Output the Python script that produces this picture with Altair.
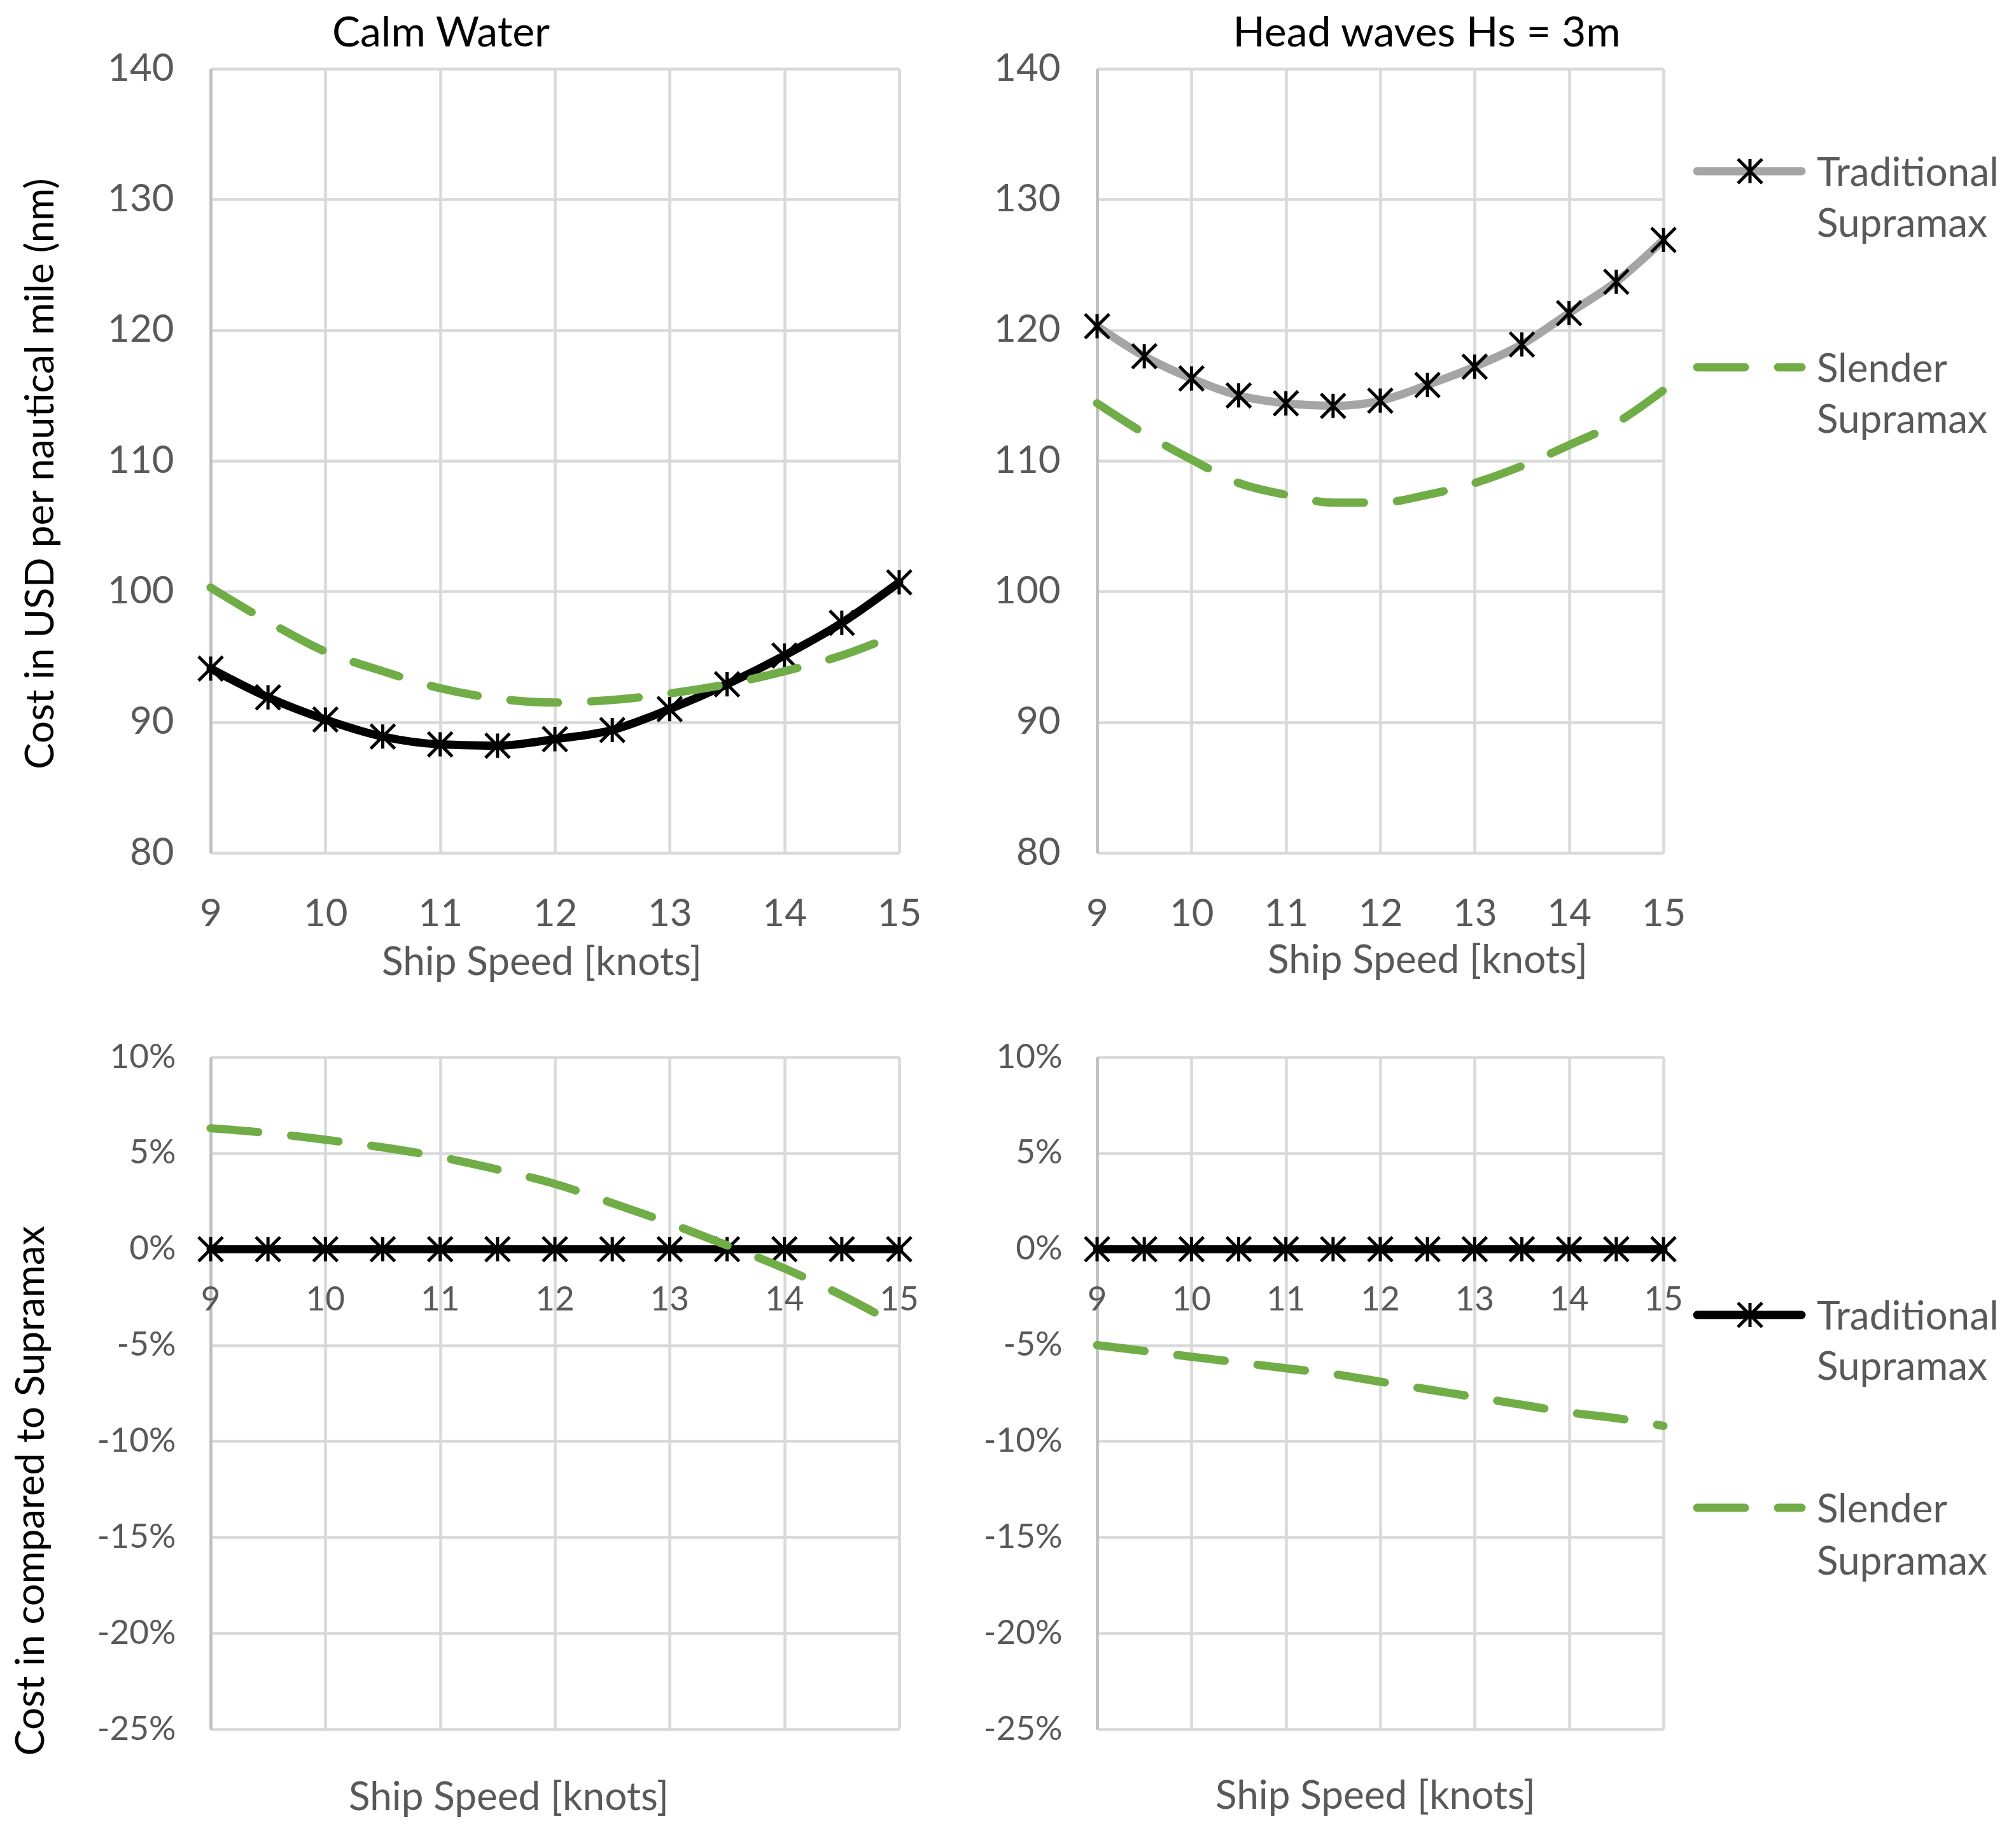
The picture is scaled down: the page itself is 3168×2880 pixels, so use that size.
import altair as alt
import pandas as pd

# ---------------- data ----------------
speeds = [9, 9.5, 10, 10.5, 11, 11.5, 12, 12.5, 13, 13.5, 14, 14.5, 15]

calm_traditional = [94.1, 91.9, 90.2, 88.9, 88.3, 88.2, 88.7, 89.4, 91.0, 92.9, 95.1, 97.6, 100.7]
calm_slender = [100.3, 97.7, 95.4, 93.9, 92.6, 91.8, 91.5, 91.7, 92.2, 92.9, 93.9, 95.1, 96.8]

head_traditional = [120.3, 118.0, 116.3, 115.0, 114.4, 114.2, 114.6, 115.8, 117.2, 118.9, 121.3, 123.7, 126.9]
head_slender = [114.4, 112.1, 110.1, 108.3, 107.4, 106.8, 106.8, 107.4, 108.3, 109.6, 111.2, 112.9, 115.4]

rel_calm_traditional = [0, 0, 0, 0, 0, 0, 0, 0, 0, 0, 0, 0, 0]
rel_calm_slender = [6.3, 6.05, 5.7, 5.3, 4.8, 4.15, 3.4, 2.4, 1.35, 0.2, -1.0, -2.4, -4.0]

rel_head_traditional = [0, 0, 0, 0, 0, 0, 0, 0, 0, 0, 0, 0, 0]
rel_head_slender = [-5.0, -5.3, -5.6, -5.9, -6.2, -6.5, -6.9, -7.3, -7.7, -8.1, -8.5, -8.8, -9.2]

x_ticks = [9, 10, 11, 12, 13, 14, 15]
cost_ticks = [80, 90, 100, 110, 120, 130, 140]
pct_ticks = [-25, -20, -15, -10, -5, 0, 5, 10]

series_names = ["Traditional Supramax", "Slender Supramax"]
legend_lines = [["Traditional", "Supramax"], ["Slender", "Supramax"]]
panel_titles = ["Calm Water", "Head waves Hs = 3m"]
x_title = "Ship Speed [knots]"
y_title_cost = "Cost in USD per nautical mile (nm)"
y_title_pct = "Cost in compared to Supramax"

# ---------------- styling ----------------
FONT = "Lato"
TXT = "#595959"
GREEN = "#70ad47"
LGRAY = "#a5a5a5"
STAR = "M-1,-1L1,1M-1,1L1,-1M0,-1L0,1"
DASH = [75, 52]
LW = 13
STAR_SIZE = 1450
STAR_W = 5

W1, W2 = 1082, 890
H1, H2 = 1232, 1056


def frame(values):
    return pd.DataFrame({"speed": speeds, "v": values})


def x_enc(title_x, title_y, labels=True):
    return alt.X(
        "speed:Q",
        scale=alt.Scale(domain=[9, 15], nice=False, zero=False),
        axis=alt.Axis(
            values=x_ticks, grid=True, domain=False, ticks=False, labels=labels,
            labelFontSize=60, labelPadding=67, labelColor=TXT, labelFlush=False,
            labelOverlap=False,
            title=x_title, titleX=title_x, titleY=title_y, titleBaseline="middle",
            titleAlign="center", titleFontSize=62, titleColor=TXT, titleFontWeight="normal",
        ),
    )


def y_enc(domain, values, pct, title=None, title_x=0, title_y=0):
    kw = dict(
        values=values, grid=True, domain=True, ticks=False,
        labelFontSize=53 if pct else 60, labelPadding=55 if pct else 58,
        labelColor=TXT, labelFlush=False, labelOverlap=False,
    )
    if pct:
        kw["labelExpr"] = "(datum.value < 0 ? '-' : '') + abs(datum.value) + '%'"
    if title:
        kw.update(title=title, titleX=title_x, titleY=title_y, titleAngle=270,
                  titleBaseline="middle", titleAlign="center", titleFontSize=62,
                  titleColor="black", titleFontWeight="normal")
    else:
        kw["title"] = None
    return alt.Y("v:Q", scale=alt.Scale(domain=domain, nice=False, zero=False), axis=alt.Axis(**kw))


def line_layer(values, color, X, Y, dashed=False):
    kw = dict(color=color, strokeWidth=LW, strokeCap="round", strokeJoin="round",
              interpolate="monotone")
    if dashed:
        kw["strokeDash"] = DASH
    return alt.Chart(frame(values)).mark_line(**kw).encode(x=X, y=Y)


def star_layer(values, X, Y):
    return alt.Chart(frame(values)).mark_point(
        shape=STAR, size=STAR_SIZE, filled=False, stroke="black", strokeWidth=STAR_W, opacity=1
    ).encode(x=X, y=Y)


def legend_layers(trad_color, rows):
    layers = []
    for i, name in enumerate(series_names):
        d = pd.DataFrame({"series": [name], "line1": [legend_lines[i][0]],
                          "line2": [legend_lines[i][1]]})
        y1, y2 = rows[i]
        kw = dict(color=trad_color if i == 0 else GREEN, strokeWidth=LW, strokeCap="round")
        if i == 1:
            kw["strokeDash"] = DASH
        layers.append(alt.Chart(d).mark_rule(**kw).encode(
            x=alt.value(943), x2=alt.value(1107), y=alt.value(y1)))
        if i == 0:
            layers.append(alt.Chart(d).mark_point(
                shape=STAR, size=STAR_SIZE, filled=False, stroke="black",
                strokeWidth=STAR_W, opacity=1
            ).encode(x=alt.value(1026), y=alt.value(y1)))
        for col, yy in (("line1", y1), ("line2", y2)):
            layers.append(alt.Chart(d).mark_text(
                align="left", baseline="middle", font=FONT, fontSize=62, color=TXT, dy=4
            ).encode(x=alt.value(1131), y=alt.value(yy), text=f"{col}:N"))
    return layers


def title(text, dx):
    return alt.TitleParams(text=text, anchor="middle", frame="group", dx=dx, dy=96, offset=35,
                           baseline="alphabetic", fontSize=66, font=FONT,
                           fontWeight="normal", color="black")


def tick_text_layer(X, Y):
    d = pd.DataFrame({"speed": x_ticks, "v": [0] * len(x_ticks)})
    return alt.Chart(d).mark_text(
        baseline="middle", align="center", font=FONT, fontSize=53, color=TXT, dy=80
    ).encode(x=X, y=Y, text=alt.Text("speed:Q"))


# ---------------- top-left: calm water ----------------
X = x_enc(520, 172)
Y = y_enc([80, 140], cost_ticks, False, y_title_cost, -267, 636)
tl = alt.layer(
    line_layer(calm_traditional, "black", X, Y),
    star_layer(calm_traditional, X, Y),
    line_layer(calm_slender, GREEN, X, Y, dashed=True),
).properties(width=W1, height=H1, title=title(panel_titles[0], -179))

# ---------------- top-right: head waves ----------------
X = x_enc(519, 169)
Y = y_enc([80, 140], cost_ticks, False)
tr = alt.layer(
    line_layer(head_traditional, LGRAY, X, Y),
    star_layer(head_traditional, X, Y),
    line_layer(head_slender, GREEN, X, Y, dashed=True),
    *legend_layers(LGRAY, [(161, 241), (469, 549)]),
).properties(width=W2, height=H1, title=title(panel_titles[1], 73))

# ---------------- bottom-left: relative, calm ----------------
X = x_enc(468, 107, labels=False)
Y = y_enc([-25, 10], pct_ticks, True, y_title_pct, -282, 681)
bl = alt.layer(
    line_layer(rel_calm_traditional, "black", X, Y),
    star_layer(rel_calm_traditional, X, Y),
    line_layer(rel_calm_slender, GREEN, X, Y, dashed=True),
    tick_text_layer(X, Y),
).properties(width=W1, height=H2)

# ---------------- bottom-right: relative, head waves ----------------
X = x_enc(437, 105, labels=False)
Y = y_enc([-25, 10], pct_ticks, True)
br = alt.layer(
    line_layer(rel_head_traditional, "black", X, Y),
    star_layer(rel_head_traditional, X, Y),
    line_layer(rel_head_slender, GREEN, X, Y, dashed=True),
    tick_text_layer(X, Y),
    *legend_layers("black", [(405, 484), (708, 790)]),
).properties(width=W2, height=H2)

chart = alt.concat(
    tl, tr, bl, br, columns=2, spacing={"row": 321, "column": 311}, bounds="flush"
).properties(
    padding={"left": 9, "top": 11, "right": 5, "bottom": 5}
).configure(font=FONT).configure_view(stroke="transparent").configure_axis(
    gridColor="#d9d9d9", gridWidth=4.5, domainColor="#bfbfbf", domainWidth=4.5,
    labelFont=FONT, titleFont=FONT,
)

chart.save("out.html", embed_options={"renderer": "svg", "actions": False})
